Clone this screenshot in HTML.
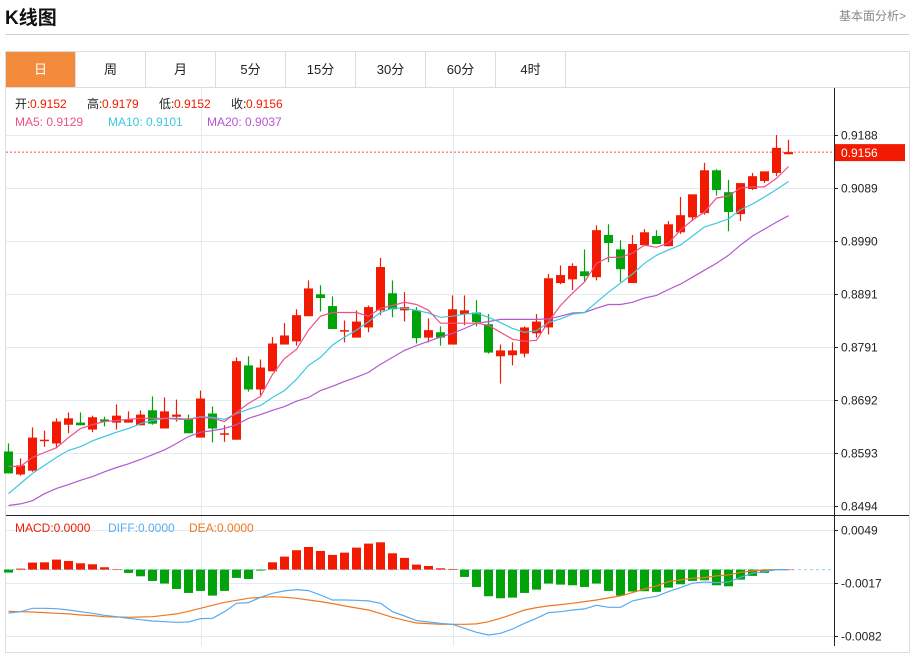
<!DOCTYPE html>
<html><head><meta charset="utf-8">
<style>
body{margin:0;background:#fff;width:912px;height:646px;overflow:hidden;font-family:"Liberation Sans","Noto Sans CJK SC",sans-serif;}
#title{position:absolute;left:5px;top:3px;font-size:19px;font-weight:bold;color:#111;}
#more{position:absolute;right:6px;top:7px;font-size:12px;color:#888;}
#hr{position:absolute;left:5px;top:34px;width:904px;height:1px;background:#d0d0d0;}
#box{position:absolute;left:5px;top:51px;width:903px;height:600px;border:1px solid #ddd;}
#tabs{position:absolute;left:6px;top:52px;height:35px;display:flex;border-bottom:1px solid #ddd;width:903px;}
.tab{width:69px;border-right:1px solid #ddd;text-align:center;line-height:35px;font-size:13px;color:#222;}
.tab.on{background:#f28c3c;color:#fff;}
svg{position:absolute;left:0;top:0;}
</style></head><body>
<div id="title">K线图</div>
<div id="more">基本面分析&gt;</div>
<div id="hr"></div>
<div id="box"></div>
<div id="tabs">
<div class="tab on">日</div>
<div class="tab">周</div>
<div class="tab">月</div>
<div class="tab">5分</div>
<div class="tab">15分</div>
<div class="tab">30分</div>
<div class="tab">60分</div>
<div class="tab">4时</div>
</div>
<svg id="chart" width="912" height="646"></svg>
<script>
const opens=[.8596,.8553,.8560,.8618,.8611,.8646,.8650,.8637,.8656,.8650,.8650,.8645,.8673,.8639,.8661,.8658,.8622,.8667,.8628,.8618,.8757,.8712,.8746,.8796,.8802,.8849,.8890,.8868,.8822,.8809,.8828,.8860,.8892,.8860,.8860,.8809,.8819,.8796,.8853,.8856,.8834,.8774,.8776,.8779,.8817,.8828,.8911,.8918,.8933,.8922,.9001,.8974,.8911,.8982,.8999,.8980,.9006,.9034,.9042,.9122,.9081,.9040,.9087,.9102,.9117,.9152];
const highs=[.8611,.8583,.8641,.8635,.8658,.8669,.8669,.8663,.8661,.8684,.8671,.8673,.8699,.8697,.8693,.8665,.8710,.8680,.8645,.8772,.8774,.8768,.8810,.8836,.8862,.8916,.8907,.8886,.8841,.8860,.8869,.8958,.8916,.8894,.8866,.8845,.8830,.8888,.8888,.8879,.8853,.8796,.8800,.8830,.8853,.8928,.8944,.8948,.8974,.9019,.9021,.8991,.9001,.9012,.9010,.9027,.9072,.9075,.9136,.9124,.9104,.9098,.9117,.9119,.9188,.9179];
const lows=[.8555,.8551,.8558,.8605,.8602,.8630,.8645,.8632,.8643,.8637,.8650,.8645,.8646,.8639,.8652,.8630,.8622,.8613,.8614,.8618,.8708,.8701,.8746,.8796,.8794,.8849,.8858,.8825,.8800,.8809,.8819,.8851,.8847,.8839,.8798,.8800,.8794,.8796,.8832,.8830,.8779,.8723,.8757,.8772,.8809,.8815,.8909,.8898,.8913,.8916,.8950,.8913,.8911,.8982,.8984,.8980,.9003,.9027,.9039,.9075,.9008,.9027,.9085,.9098,.9111,.9152];
const closes=[.8555,.8570,.8622,.8618,.8652,.8658,.8645,.8660,.8652,.8663,.8656,.8665,.8648,.8671,.8665,.8630,.8695,.8639,.8630,.8765,.8712,.8753,.8798,.8813,.8851,.8901,.8883,.8825,.8823,.8839,.8866,.8941,.8862,.8866,.8808,.8823,.8809,.8862,.8860,.8838,.8781,.8785,.8785,.8828,.8839,.8920,.8926,.8943,.8924,.9010,.8986,.8937,.8984,.9006,.8984,.9021,.9038,.9077,.9122,.9085,.9044,.9098,.9111,.9120,.9164,.9156];
const ma5=[.8568,.8568,.8585,.8594,.8603,.8622,.8639,.8646,.8652,.8654,.8656,.8658,.8658,.8658,.8658,.8656,.8660,.8658,.8652,.8669,.8686,.8699,.8740,.8770,.8787,.8823,.8849,.8856,.8856,.8856,.8849,.8864,.8869,.8875,.8871,.8860,.8836,.8836,.8836,.8836,.8832,.8819,.8806,.8802,.8804,.8839,.8869,.8892,.8913,.8948,.8959,.8959,.8967,.8982,.8978,.8986,.9010,.9029,.9044,.9070,.9074,.9089,.9091,.9091,.9107,.9129];
const ma10=[.8517,.8536,.8555,.8570,.8585,.8598,.8605,.8616,.8624,.8632,.8639,.8648,.8654,.8658,.8656,.8656,.8661,.8660,.8656,.8667,.8675,.8682,.8697,.8710,.8731,.8757,.8772,.8795,.8810,.8823,.8839,.8856,.8864,.8864,.8860,.8855,.8847,.8849,.8853,.8855,.8847,.8837,.8826,.8819,.8822,.8837,.8844,.8853,.8856,.8875,.8894,.8911,.8928,.8948,.8963,.8973,.8982,.8999,.9016,.9023,.9031,.9048,.9059,.9072,.9086,.9101];
const ma20=[.8495,.8498,.8504,.8517,.8527,.8534,.8542,.8549,.8558,.8566,.8573,.8581,.8590,.8599,.8611,.8624,.8632,.8635,.8639,.8646,.8658,.8665,.8673,.8680,.8690,.8697,.8710,.8718,.8727,.8735,.8744,.8759,.8772,.8785,.8794,.8802,.8810,.8817,.8826,.8836,.8839,.8843,.8843,.8843,.8843,.8844,.8849,.8855,.8856,.8864,.8871,.8871,.8875,.8883,.8888,.8899,.8909,.8922,.8935,.8948,.8963,.8982,.8999,.9012,.9025,.9037];
const macdHist=[-.00037,.00012,.00087,.0009,.00124,.00107,.00078,.00066,.00029,.00004,-.00041,-.00083,-.0014,-.00173,-.0024,-.00289,-.00264,-.00322,-.00264,-.00103,-.00116,-.00012,.0009,.00161,.0024,.0028,.00231,.00182,.0021,.00272,.00322,.00338,.00202,.00145,.00062,.00045,.00016,.00008,-.00091,-.00215,-.0033,-.00355,-.00347,-.00289,-.00248,-.00173,-.00186,-.00194,-.00215,-.00173,-.00264,-.00322,-.00272,-.00268,-.00276,-.00223,-.00182,-.0014,-.00132,-.00194,-.00207,-.00124,-.00078,-.00041,-.00004,0];
const diff=[-.00537,-.00521,-.00479,-.00479,-.00484,-.0050,-.00521,-.00541,-.00566,-.00583,-.00603,-.0062,-.00636,-.00645,-.00653,-.00649,-.00607,-.00603,-.00521,-.00417,-.00409,-.00343,-.00293,-.00264,-.00248,-.0026,-.00314,-.00376,-.00376,-.0038,-.00388,-.00417,-.00521,-.00574,-.00632,-.00649,-.00665,-.00677,-.00727,-.00776,-.0081,-.00789,-.00735,-.00665,-.00603,-.00533,-.00521,-.0050,-.00487,-.00442,-.00467,-.00467,-.00388,-.00355,-.0033,-.00273,-.00223,-.00169,-.00153,-.00161,-.00153,-.00095,-.00045,-.00025,0,0];
const dea=[-.00516,-.00521,-.00525,-.00533,-.00541,-.00549,-.00562,-.0057,-.00583,-.00587,-.00591,-.00587,-.00583,-.00566,-.00549,-.00516,-.00479,-.00442,-.00405,-.0038,-.00355,-.00343,-.00335,-.00343,-.00355,-.00376,-.00396,-.00421,-.0045,-.00475,-.0050,-.00545,-.00591,-.00628,-.00661,-.00669,-.00677,-.00677,-.00677,-.00673,-.00645,-.00603,-.00553,-.0050,-.00471,-.0045,-.00434,-.00417,-.00396,-.00376,-.00351,-.00326,-.00285,-.0024,-.00202,-.00149,-.00128,-.00107,-.00099,-.00078,-.00066,-.00033,-.00017,-.00004,0,0];
const priceTicks=["0.9188","0.9089","0.8990","0.8891","0.8791","0.8692","0.8593","0.8494"];
const macdTicks=["0.0049","-0.0017","-0.0082"];
const lastPrice=0.9156;

const NS="http://www.w3.org/2000/svg";
const svg=document.getElementById('chart');
function mk(tag,attrs,parent){const e=document.createElementNS(NS,tag);for(const k in attrs)e.setAttribute(k,attrs[k]);(parent||svg).appendChild(e);return e;}
const X=i=>8.5+12*i;
const Y=v=>135+(0.9188-v)*(371/(0.9188-0.8494));
const MY=v=>569.6-v*(53.3/0.0066);
const RED="#f21a00",GREEN="#00a40a";

// grid
const grid=mk('g',{});


priceTicks.forEach(t=>{const y=Math.round(Y(parseFloat(t)))+.5;mk('line',{x1:6,x2:834,y1:y,y2:y,stroke:'#e3ebf2'},grid);});
macdTicks.forEach(t=>{const y=Math.round(MY(parseFloat(t)))+.5;mk('line',{x1:6,x2:834,y1:y,y2:y,stroke:'#e3ebf2'},grid);});
[201.5,453.5].forEach(x=>mk('line',{x1:x,x2:x,y1:88,y2:646,stroke:'#e3ebf2'},grid));
// axes
mk('line',{x1:834.5,x2:834.5,y1:88,y2:646,stroke:'#222'});
mk('line',{x1:6,x2:909,y1:515.5,y2:515.5,stroke:'#222'});
// price labels
priceTicks.forEach(t=>{const y=Math.round(Y(parseFloat(t)))+.5;
 mk('line',{x1:834,x2:838,y1:y,y2:y,stroke:'#222'});
 const tx=mk('text',{x:841,y:y+4,'font-size':12,fill:'#222'});tx.textContent=t;
 
 
});
macdTicks.forEach(t=>{const y=Math.round(MY(parseFloat(t)))+.5;
 mk('line',{x1:834,x2:838,y1:y,y2:y,stroke:'#222'});
 const tx=mk('text',{x:841,y:y+4,'font-size':12,fill:'#222'});tx.textContent=t;
 
 
});
// last price
const ly=Y(lastPrice);
mk('line',{x1:6,x2:834,y1:ly,y2:ly,stroke:'#f05050','stroke-dasharray':'2,2'});
const lb=mk('rect',{x:835,y:ly-8,width:70,height:17,fill:RED});


const lt=mk('text',{x:841,y:ly+5,'font-size':12,fill:'#fff'});lt.textContent=lastPrice.toFixed(4);
// candles
closes.forEach((c,i)=>{
 const o=opens[i],up=c>=o,col=up?RED:GREEN,x=X(i);
 const g=mk('g',{});
 
 
 mk('line',{x1:x,x2:x,y1:Y(highs[i]),y2:Y(lows[i]),stroke:col,'stroke-width':1.2},g);
 const top=Y(Math.max(o,c)),bot=Y(Math.min(o,c));
 mk('rect',{x:x-4.5,y:top,width:9,height:Math.max(1.5,bot-top),fill:col},g);
});
function line(arr,map,col,name){
 const p=mk('polyline',{points:arr.map((v,i)=>X(i)+','+map(v).toFixed(1)).join(' '),fill:'none',stroke:col,'stroke-width':1.2});
 
 
}
line(ma20,Y,'#b458d0','ma20-line');
line(ma10,Y,'#3cc8e0','ma10-line');
line(ma5,Y,'#f0508a','ma5-line');
// macd
const z=MY(0);
mk('line',{x1:6,x2:834,y1:z,y2:z,stroke:'#9cd0ea','stroke-dasharray':'3,3'});
macdHist.forEach((v,i)=>{
 const y=MY(v);
 const r=mk('rect',{x:X(i)-4.5,y:Math.min(y,z),width:9,height:Math.max(0.5,Math.abs(y-z)),fill:v>=0?RED:GREEN});
 
 
});
line(dea,MY,'#f07820','dea-line');
line(diff,MY,'#5aaaf0','diff-line');
// legends
function txt(x,y,s,col,name){const t=mk('text',{x:x,y:y,'font-size':12,fill:col});t.textContent=s;
 
 
 return t;}
const ohlc=[["开:",opens[65]],["高:",highs[65]],["低:",lows[65]],["收:",closes[65]]];
let lx=15;
ohlc.forEach(([k,v])=>{txt(lx,108,k,'#222','ohlc-key');txt(lx+15,108,v.toFixed(4),RED,'ohlc-value');lx+=72;});
txt(15,126,'MA5: '+ma5[65].toFixed(4),'#f0508a','ma5-legend');
txt(108,126,'MA10: '+ma10[65].toFixed(4),'#3cc8e0','ma10-legend');
txt(207,126,'MA20: '+ma20[65].toFixed(4),'#b458d0','ma20-legend');
txt(15,532,'MACD:0.0000',RED,'macd-legend');
txt(108,532,'DIFF:0.0000','#5aaaf0','diff-legend');
txt(189,532,'DEA:0.0000','#f07820','dea-legend');
</script>
</body></html>
